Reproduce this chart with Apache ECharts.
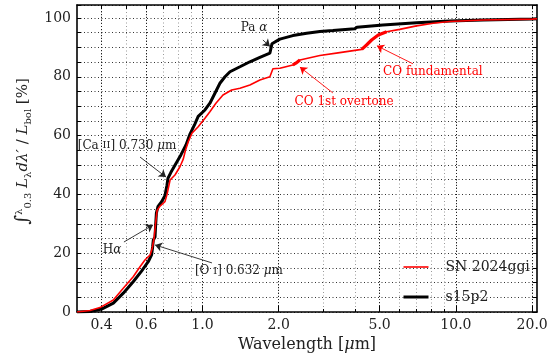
<!DOCTYPE html>
<html style="height: 100%">
<head>
	<meta charset="utf-8">
</head>
<body style="height: 100%; margin: 0">
<div id="container" style="width: 549px; height: 363px"></div>
<script src="https://cdn.jsdelivr.net/npm/echarts@6/dist/echarts.min.js"></script>
<script type="text/javascript">
	// wavelength [micron] and cumulative luminosity fraction [%]
	var snWave = [0.32, 0.36, 0.394, 0.445, 0.487, 0.533, 0.567, 0.593, 0.621, 0.633, 0.644, 0.653, 0.662, 0.68, 0.711, 0.725, 0.733, 0.745, 0.779, 0.815, 0.84, 0.857, 0.879, 0.909, 0.962, 1.023, 1.07, 1.13, 1.205, 1.304, 1.406, 1.539, 1.685, 1.845, 1.897, 2.02, 2.274, 2.336, 2.424, 2.906, 3.48, 4.25, 4.44, 4.65, 4.94, 5.33, 6.0, 6.99, 8.14, 9.45, 12.8, 20.1, 20.9];
	var snFrac = [0, 0.5, 1.5, 4.1, 8.1, 12, 15.4, 17.7, 19.4, 21.5, 25, 30, 34.5, 36, 37.5, 40, 42, 44.9, 46.6, 49.4, 52, 55, 57.9, 60.8, 63, 65.9, 68.1, 71, 73.8, 75.5, 76.1, 77.2, 78.9, 80.0, 82.7, 82.9, 84.0, 84.6, 85.7, 87.2, 88.2, 89.3, 90.8, 92.5, 94.2, 95.3, 96.1, 97.3, 98.2, 98.8, 99.3, 99.6, 99.7];

	var modWave = [0.32, 0.36, 0.40, 0.445, 0.487, 0.533, 0.576, 0.611, 0.630, 0.636, 0.640, 0.650, 0.653, 0.658, 0.667, 0.690, 0.711, 0.724, 0.731, 0.751, 0.786, 0.823, 0.861, 0.893, 0.934, 0.962, 1.023, 1.07, 1.12, 1.172, 1.227, 1.284, 1.406, 1.539, 1.685, 1.845, 1.88, 2.02, 2.274, 2.577, 2.906, 3.27, 3.99, 4.07, 5.15, 7.0, 9.45, 12.8, 20.1, 20.9];
	var modFrac = [0, 0.2, 1.0, 3, 6.4, 10.3, 14, 17.1, 19.4, 22.2, 24.5, 25.5, 29, 33.6, 35.8, 37.5, 39.5, 43, 45.5, 47.5, 50.5, 53.5, 56.8, 60.5, 64, 66.5, 68.7, 71, 74.4, 77.8, 80, 81.7, 83.4, 85.1, 86.6, 88, 91.2, 92.8, 94, 94.8, 95.4, 95.7, 96.3, 96.8, 97.6, 98.4, 99, 99.3, 99.6, 99.7];

	var labelTicks = [0.4, 0.6, 1.0, 2.0, 5.0, 10.0, 20.0];
	var allTicks = [0.4, 0.5, 0.6, 0.7, 0.8, 0.9, 1, 2, 3, 4, 5, 6, 7, 8, 9, 10, 20];

	// CO bands drawn thicker in the observed curve
	var coBands = [[2.27, 2.43], [4.25, 5.4]];

	// annotations: label text, label point, arrow tail, arrow head (wavelength, percent)
	var notes = [
		{text: 'Pa {i|α}', at: [1.597, 96.6], from: [1.732, 92.5], to: [1.846, 90.3], red: false},
		{text: '[Ca {sc|II}] 0.730 {i|μ}m', at: [0.504, 56.5], from: [0.567, 52.7], to: [0.718, 45.9], red: false},
		{text: 'H{i|α}', at: [0.440, 21.1], from: [0.490, 23.8], to: [0.638, 29.6], red: false},
		{text: '[O {sc|I}] 0.632 {i|μ}m', at: [1.393, 13.9], from: [1.090, 16.7], to: [0.650, 22.8], red: false},
		{text: 'CO 1st overtone', at: [3.62, 71.4], from: [3.27, 74.5], to: [2.424, 83.3], red: true},
		{text: 'CO fundamental', at: [8.11, 81.6], from: [6.77, 84.4], to: [4.88, 90.5], red: true}
	];

	var lg = function (v) { return Math.log10(v); };
	var xMin = -0.495, xMax = 1.32, yMax = 104.4;
	var font = 'DejaVu Serif';
	var red = '#ff0000';

	function pairs(w, f) {
		var res = [];
		for (var i = 0; i < w.length; i++) res.push([lg(w[i]), f[i]]);
		return res;
	}
	function bandData(w, f) {
		var res = [];
		for (var b = 0; b < coBands.length; b++) {
			for (var i = 0; i < w.length; i++) {
				if (w[i] >= coBands[b][0] && w[i] <= coBands[b][1]) res.push([lg(w[i]), f[i]]);
			}
			res.push(null);
		}
		return res;
	}
	function marks(isRed) {
		var col = isRed ? red : '#222';
		var lines = [], points = [];
		notes.forEach(function (n) {
			if (n.red !== isRed) return;
			lines.push([{coord: [lg(n.from[0]), n.from[1]]}, {coord: [lg(n.to[0]), n.to[1]]}]);
			points.push({
				coord: [lg(n.at[0]), n.at[1]],
				label: {formatter: n.text}
			});
		});
		return {
			markLine: {
				silent: true, symbol: ['none', 'arrow'], symbolSize: 7,
				lineStyle: {color: col, width: 0.9, type: 'solid'},
				label: {show: false}, data: lines
			},
			markPoint: {
				silent: true, symbol: 'rect', symbolSize: 1,
				itemStyle: {color: 'rgba(0,0,0,0)'},
				label: {
					show: true, position: 'inside', color: col, fontFamily: font, fontSize: 12,
					rich: {
						i: {fontStyle: 'italic', fontFamily: font, fontSize: 12, color: col},
						sc: {fontFamily: font, fontSize: 10, color: col}
					}
				},
				data: points
			}
		};
	}

	var dom = document.getElementById("container");
	var myChart = echarts.init(dom);

	var xCommon = function (extra) {
		return Object.assign({type: 'value', min: xMin, max: xMax}, extra);
	};
	var yCommon = function (extra) {
		return Object.assign({type: 'value', min: 0, max: yMax, interval: 5}, extra);
	};

	var option = {
		animation: false,
		grid: {left: 77, right: 12, top: 5, bottom: 51, containLabel: false, outerBoundsMode: 'none'},
		legend: {
			orient: 'vertical', left: 397, top: 255,
			itemWidth: 25, itemHeight: 10, itemGap: 16,
			data: ['SN 2024ggi', 's15p2'],
			itemStyle: {opacity: 0},
			lineStyle: {width: 'inherit'},
			textStyle: {fontFamily: font, fontSize: 14, color: '#222', padding: [0, 0, 0, 12]}
		},
		xAxis: [
			xCommon({
				position: 'bottom',
				axisLine: {onZero: false, lineStyle: {color: '#000', width: 1.6}},
				axisTick: {inside: true, length: 3, customValues: allTicks.map(lg), lineStyle: {color: '#000'}},
				axisLabel: {
					customValues: labelTicks.map(lg), margin: 6,
					fontFamily: font, fontSize: 14, color: '#222',
					formatter: function (v) { return Math.pow(10, v).toFixed(1); }
				},
				splitLine: {show: true, lineStyle: {type: [1, 2.5], color: '#9a9a9a', width: 1}},
				name: 'Wavelength [{i|μ}m]', nameLocation: 'middle', nameGap: 22,
				nameTextStyle: {fontFamily: font, fontSize: 16, color: '#222',
					rich: {i: {fontStyle: 'italic', fontFamily: font, fontSize: 16, color: '#222'}}}
			}),
			xCommon({
				position: 'bottom',
				axisLine: {show: false, onZero: false},
				axisTick: {inside: true, length: 6, customValues: labelTicks.map(lg), lineStyle: {color: '#000'}},
				axisLabel: {show: false},
				splitLine: {show: true, lineStyle: {type: [1, 2], color: '#222', width: 1}}
			}),
			xCommon({
				position: 'top',
				axisLine: {show: true, onZero: false, lineStyle: {color: '#000', width: 1.6}},
				axisTick: {inside: true, length: 4, customValues: allTicks.map(lg), lineStyle: {color: '#000'}},
				axisLabel: {show: false},
				splitLine: {show: false}
			})
		],
		yAxis: [
			yCommon({
				position: 'left',
				axisLine: {show: true, onZero: false, lineStyle: {color: '#000', width: 1.6}},
				axisTick: {show: true, inside: true, length: 4, lineStyle: {color: '#000'}},
				axisLabel: {
					margin: 6, fontFamily: font, fontSize: 14, color: '#222',
					formatter: function (v) { return v % 20 === 0 ? String(v) : ''; }
				},
				splitLine: {show: true, lineStyle: {type: [1, 2.5], color: '#333', width: 1}},
				name: '{int|∫}{sup|λ}{sub|0.3} {it|L}{sub|λ}{it|dλ′} / {it|L}{sub|bol} [%]',
				nameLocation: 'middle', nameGap: 44,
				nameTextStyle: {
					fontFamily: font, fontSize: 15, color: '#222', padding: [0, 0, 0, 14],
					rich: {
						int: {fontFamily: font, fontSize: 19, color: '#222'},
						sup: {fontFamily: font, fontSize: 10, color: '#222', verticalAlign: 'top'},
						sub: {fontFamily: font, fontSize: 10, color: '#222', verticalAlign: 'bottom'},
						it: {fontFamily: font, fontSize: 15, fontStyle: 'italic', color: '#222'}
					}
				}
			}),
			yCommon({
				position: 'right',
				axisLine: {show: true, onZero: false, lineStyle: {color: '#000', width: 1.6}},
				axisTick: {show: true, inside: true, length: 4, lineStyle: {color: '#000'}},
				axisLabel: {show: false},
				splitLine: {show: false}
			})
		],
		series: [
			Object.assign({
				name: 'SN 2024ggi', type: 'line', symbol: 'none', smooth: false,
				data: pairs(snWave, snFrac),
				lineStyle: {color: red, width: 1.6},
				itemStyle: {color: red},
				z: 3
			}, marks(true)),
			{
				name: 'co', type: 'line', symbol: 'none', connectNulls: false,
				data: bandData(snWave, snFrac),
				lineStyle: {color: red, width: 3.2},
				itemStyle: {color: red},
				z: 3
			},
			Object.assign({
				name: 's15p2', type: 'line', symbol: 'none', smooth: false,
				data: pairs(modWave, modFrac),
				lineStyle: {color: '#000', width: 3},
				itemStyle: {color: '#000'},
				z: 2
			}, marks(false))
		]
	};

	myChart.setOption(option);
</script>
</body>
</html>
